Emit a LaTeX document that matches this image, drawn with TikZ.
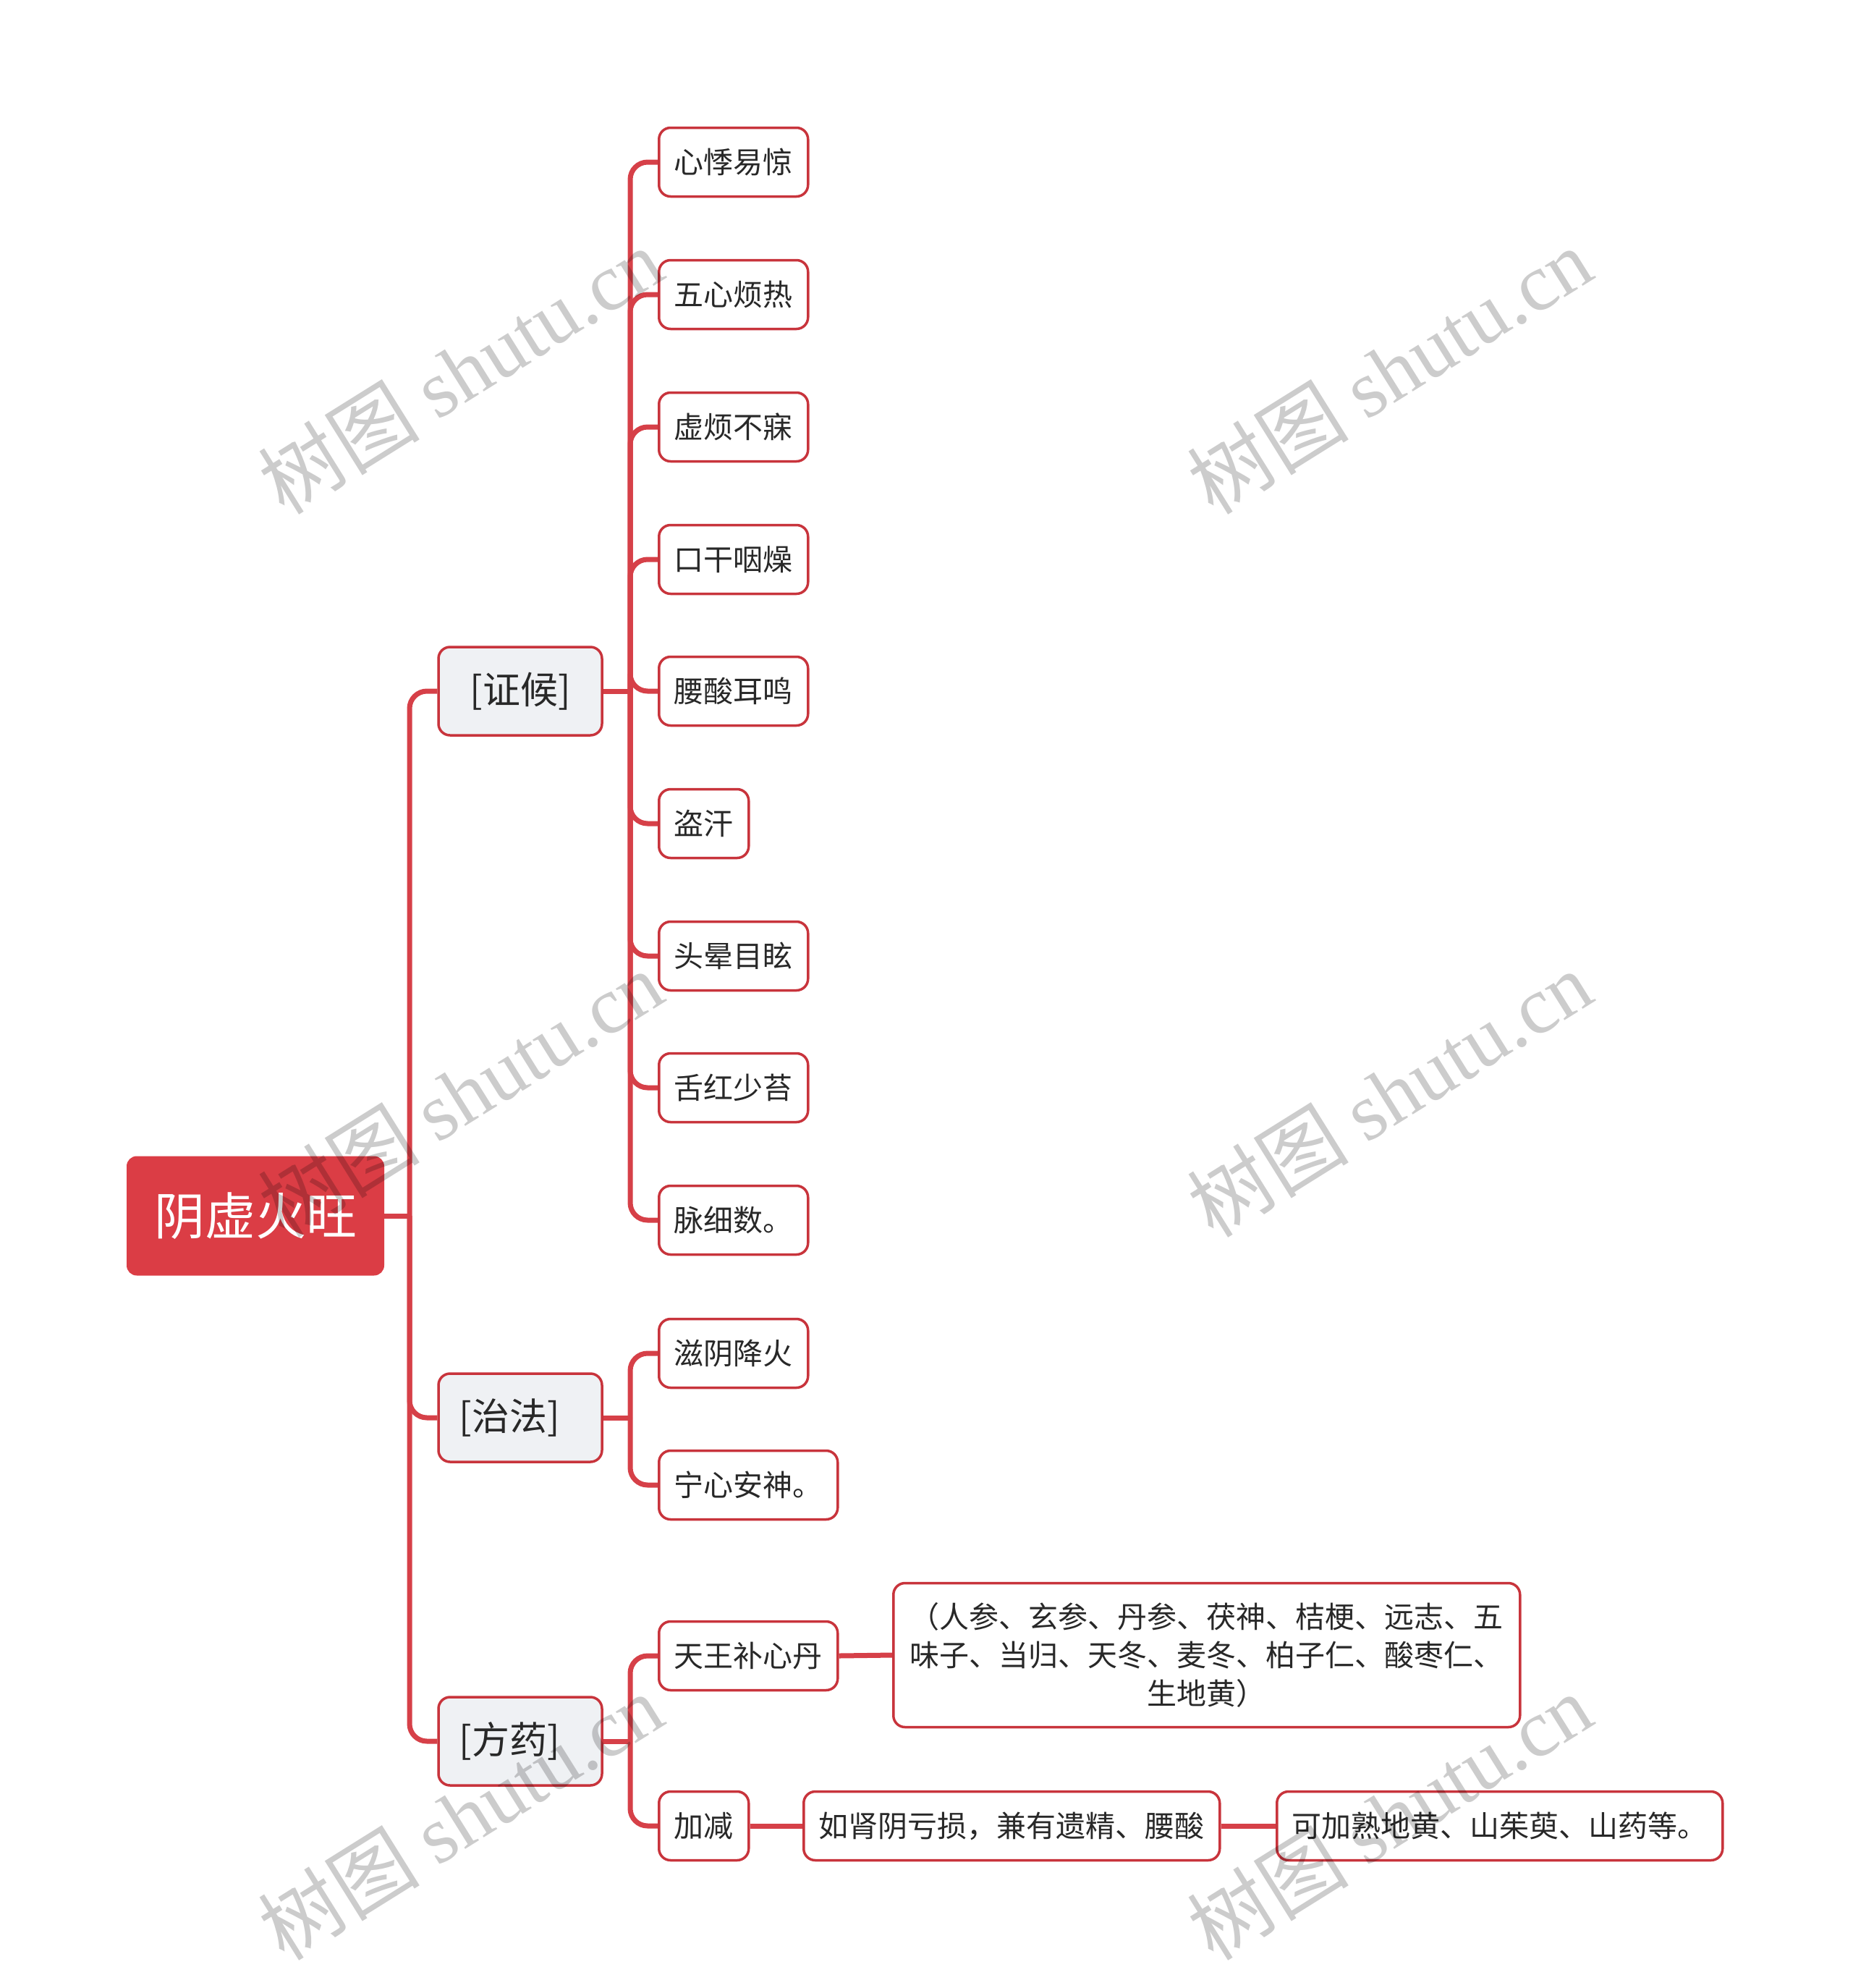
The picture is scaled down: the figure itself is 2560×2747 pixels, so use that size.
\documentclass[tikz,border=0pt]{standalone}
\usepackage{fontspec}
\usetikzlibrary{backgrounds}
\setmainfont{Noto Sans CJK SC}
\newfontfamily\wmserif{Liberation Serif}
\definecolor{mred}{RGB}{214,64,72}
\definecolor{bred}{RGB}{200,52,60}
\definecolor{rootred}{RGB}{219,61,69}
\definecolor{lgray}{RGB}{239,241,244}
\definecolor{txt}{RGB}{40,40,40}
\begin{document}
\begin{tikzpicture}[x=1pt,y=-1pt,
  conn/.style={draw=mred,line width=7pt,rounded corners=24pt},
  rootbox/.style={rectangle,rounded corners=14pt,fill=rootred,text=white,minimum width=356pt,minimum height=165pt,inner sep=0pt,font=\fontsize{70}{80}\selectfont},
  catbox/.style={rectangle,rounded corners=16pt,draw=bred,line width=3.5pt,fill=lgray,text=txt,minimum width=226pt,minimum height=122pt,inner sep=0pt,font=\fontsize{52}{60}\selectfont},
  leafbox/.style={rectangle,rounded corners=16pt,draw=bred,line width=3.5pt,fill=white,text=txt,minimum height=95pt,inner xsep=21pt,inner ysep=0pt,anchor=west,font=\fontsize{41}{49}\selectfont},
  wm/.style={rotate=32,text=black,text opacity=0.2,font=\fontsize{112}{120}\selectfont}
]
\useasboundingbox (0,0) rectangle (2560,2747);

% root
\node[rootbox] (root) at (353,1680) {阴虚火旺};

% categories
\node[catbox] (c1) at (719,955) {[证候]};
\node[catbox] (c2) at (719,1959) {[治法]\hspace*{30pt}};
\node[catbox] (c3) at (719,2406) {[方药]\hspace*{30pt}};

% leaves of c1
\node[leafbox] (a1) at (909,224) {心悸易惊};
\node[leafbox] (a2) at (909,407) {五心烦热};
\node[leafbox] (a3) at (909,590) {虚烦不寐};
\node[leafbox] (a4) at (909,773) {口干咽燥};
\node[leafbox] (a5) at (909,955) {腰酸耳鸣};
\node[leafbox] (a6) at (909,1138) {盗汗};
\node[leafbox] (a7) at (909,1321) {头晕目眩};
\node[leafbox] (a8) at (909,1503) {舌红少苔};
\node[leafbox] (a9) at (909,1686) {脉细数。};

% leaves of c2
\node[leafbox] (b1) at (909,1870) {滋阴降火};
\node[leafbox] (b2) at (909,2052) {宁心安神。};

% leaves of c3
\node[leafbox] (d1) at (909,2288) {天王补心丹};
\node[leafbox] (d2) at (909,2523) {加减};
\node[leafbox,text width=822pt,align=center,minimum height=199pt,inner xsep=22pt,font=\fontsize{41}{53}\selectfont] (d1a) at (1233,2287) {（人参、玄参、丹参、茯神、桔梗、远志、五\\味子、当归、天冬、麦冬、柏子仁、酸枣仁、\\生地黄）};
\node[leafbox] (d2a) at (1109,2523) {如肾阴亏损，兼有遗精、腰酸};
\node[leafbox] (d2b) at (1763,2523) {可加熟地黄、山茱萸、山药等。};

% trunk coordinates
\coordinate (t0) at (566,1680);
\coordinate (t1) at (871,955);
\coordinate (t2) at (871,1959);
\coordinate (t3) at (871,2406);

% connectors
\begin{scope}[on background layer]
\draw[conn] (root.east) -- (t0);
\foreach \c in {c1,c2,c3} { \draw[conn] (t0) |- (\c.west); }
\draw[conn] (c1.east) -- (t1);
\foreach \c in {a1,a2,a3,a4,a5,a6,a7,a8,a9} { \draw[conn] (t1) |- (\c.west); }
\draw[conn] (c2.east) -- (t2);
\foreach \c in {b1,b2} { \draw[conn] (t2) |- (\c.west); }
\draw[conn] (c3.east) -- (t3);
\foreach \c in {d1,d2} { \draw[conn] (t3) |- (\c.west); }
\draw[conn] (d1.east) -- (d1a.west);
\draw[conn] (d2.east) -- (d2a.west);
\draw[conn] (d2a.east) -- (d2b.west);
\end{scope}

% watermarks
\foreach \p in {(636,512),(1920,512),(636,1511),(1920,1511),(636,2510),(1920,2510)} {
  \node[wm] at \p {树图 {\wmserif shutu.cn}};
}
\end{tikzpicture}
\end{document}
